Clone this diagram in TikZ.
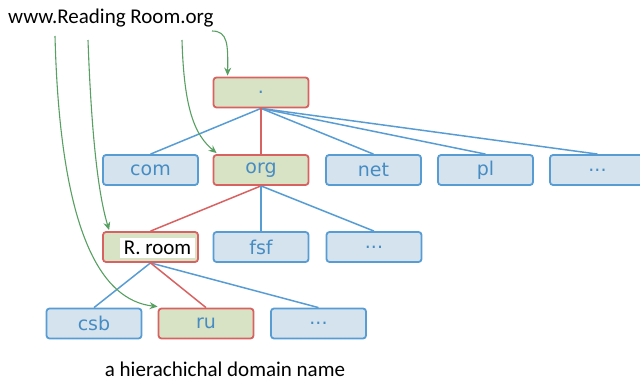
\documentclass[tikz,border=0pt]{standalone}
\usepackage{fontspec}
\setmainfont{Carlito}
\newfontfamily\boxfont{DejaVu Sans}
\usetikzlibrary{arrows.meta,calc}
\definecolor{bfill}{RGB}{212,227,238}
\definecolor{bline}{RGB}{88,156,212}
\definecolor{btext}{RGB}{70,140,195}
\definecolor{gfill}{RGB}{216,226,196}
\definecolor{rline}{RGB}{216,98,98}
\definecolor{garrow}{RGB}{88,160,98}
\tikzset{
  dbox/.style={rounded corners=3pt, minimum width=95pt, minimum height=30pt, line width=1.8pt,
    font=\boxfont\fontsize{19}{20}\selectfont, text=btext, inner sep=0pt},
  bbox/.style={dbox, fill=bfill, draw=bline},
  rbox/.style={dbox, fill=gfill, draw=rline},
  bedge/.style={draw=bline, line width=1.5pt},
  redge/.style={draw=rline, line width=1.5pt},
  garr/.style={draw=garrow, line width=1.1pt, -{Stealth[length=8pt,width=7pt]}},
  label/.style={font=\fontsize{21}{24}\selectfont, text=black, inner sep=0pt},
  rtext/.style={fill=white, minimum width=75pt, minimum height=20pt, inner sep=0pt,
    font=\fontsize{21}{24}\selectfont}
}
\begin{document}
\begin{tikzpicture}[x=1pt,y=-1pt]
\useasboundingbox (0,0) rectangle (640,382);
% node positions (drawn once invisibly for anchors)
\path (261,92.5) node[rbox,draw=none,fill=none] (root) {}
      (150.5,170) node[rbox,draw=none,fill=none] (com) {}
      (261,170) node[rbox,draw=none,fill=none] (org) {}
      (373.5,170) node[rbox,draw=none,fill=none] (net) {}
      (485.5,170) node[rbox,draw=none,fill=none] (pl) {}
      (597.5,170) node[rbox,draw=none,fill=none] (dots1) {}
      (150.5,247) node[rbox,draw=none,fill=none] (rroom) {}
      (261,247) node[rbox,draw=none,fill=none] (fsf) {}
      (374,247) node[rbox,draw=none,fill=none] (dots2) {}
      (94,323.5) node[rbox,draw=none,fill=none] (csb) {}
      (206,323.5) node[rbox,draw=none,fill=none] (ru) {}
      (318.5,323.5) node[rbox,draw=none,fill=none] (dots3) {};
% edges
\path[bedge] (root.south) -- (com.north);
\path[bedge] (root.south) -- (net.north);
\path[bedge] (root.south) -- (pl.north);
\path[bedge] (root.south) -- (dots1.north);
\path[redge] (root.south) -- (org.north);
\path[redge] (org.south) -- (rroom.north);
\path[bedge] (org.south) -- (fsf.north);
\path[bedge] (org.south) -- (dots2.north);
\path[bedge] (rroom.south) -- (csb.north);
\path[bedge] (rroom.south) -- (dots3.north);
\path[redge] (rroom.south) -- (ru.north);
% boxes
\node[rbox] at (root) {.};
\node[bbox] at (com) {com};
\node[rbox] at (org) {org};
\node[bbox] at (net) {net};
\node[bbox] at (pl) {pl};
\node[bbox] at (dots1) {...};
\node[rbox] at (rroom) {};
\node[bbox] at (fsf) {fsf};
\node[bbox] at (dots2) {...};
\node[bbox] at (csb) {csb};
\node[rbox] at (ru) {ru};
\node[bbox] at (dots3) {...};
\node[rtext] (rtxt) at (157.5,248) {R. room};
% texts
\node[label, anchor=west] (url) at (8,18) {www.Reading Room.org};
\node[label] (cap) at (225,369) {a hierachichal domain name};
% green arrows
\coordinate (s1) at (212,31);
\coordinate (s2) at (182,40);
\coordinate (s3) at (88,40);
\coordinate (s4) at (55,36);
\draw[garr] (s1) .. controls (228,31) and (228,45) .. ($(root.north west)+(15,-1)$);
\draw[garr] (s2) .. controls (184,110) and (195,135) .. ($(org.north west)+(4,-1)$);
\draw[garr] (s3) .. controls (92,150) and (100,200) .. ($(rroom.north west)+(7,-1)$);
\draw[garr] (s4) .. controls (60,230) and (100,300) .. ($(ru.north west)+(0,-1)$);
\end{tikzpicture}
\end{document}
